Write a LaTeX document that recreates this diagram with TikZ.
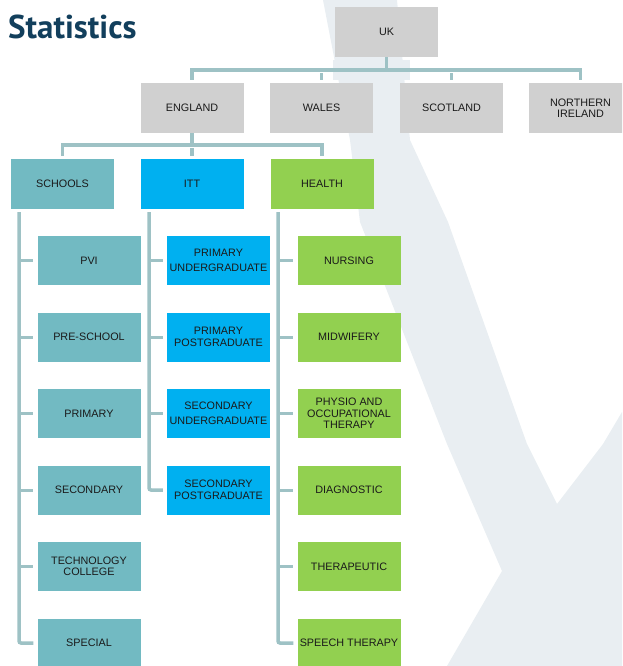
\documentclass[tikz,border=0pt]{standalone}
\usepackage{fontspec}
\setmainfont{Liberation Sans}
\newfontfamily\titlefont{PT Sans}
\definecolor{greyc}{HTML}{D0D0D0}
\definecolor{tealc}{HTML}{72BAC2}
\definecolor{bluec}{HTML}{00B0F0}
\definecolor{greenc}{HTML}{92D050}
\definecolor{connc}{HTML}{9EC2C5}
\definecolor{bgc}{HTML}{E9EEF2}
\definecolor{txtc}{HTML}{1A1A1A}
\definecolor{titlec}{HTML}{123F5C}
\tikzset{
  box/.style={minimum width=103pt, minimum height=49pt, inner sep=0pt, align=center,
    font=\fontsize{10.8}{11.5}\selectfont, text=txtc},
  greybox/.style={box, fill=greyc},
  tealbox/.style={box, fill=tealc},
  bluebox/.style={box, fill=bluec},
  greenbox/.style={box, fill=greenc},
  conn/.style={draw=connc, line width=3.5pt},
  drop/.style={conn, shorten <=3pt, shorten >=3pt},
  stub/.style={draw=connc, line width=3pt},
}
\begin{document}
\begin{tikzpicture}[x=1pt,y=-1pt]
\useasboundingbox (0,0) rectangle (622,666);
\clip (0,0) rectangle (622,666);
% background swoosh
\fill[bgc] (323,0) -- (397,0) -- (410,140) -- (448,222) -- (527,444) -- (557,504) -- (603,444)
  -- (622,412) -- (622,666) -- (447,666) -- (502,571) -- (447,444) -- (360,222) -- (350,140) -- cycle;
\fill[bgc] (333,60) rectangle (410,80);
% title
\node[anchor=base west, inner sep=0pt, text=titlec,
  font=\titlefont\bfseries\fontsize{33}{36}\selectfont] (title) at (8,39) {Statistics};
% level 1 and 2
\node[greybox, minimum height=50pt] (uk) at (386.5,32) {UK};
\node[greybox, minimum height=50pt] (eng) at (192,108) {ENGLAND};
\node[greybox, minimum height=50pt] (wal) at (321.5,108) {WALES};
\node[greybox, minimum height=50pt] (sco) at (451.5,108) {SCOTLAND};
\node[greybox, minimum height=50pt] (nir) at (580.5,108) {NORTHERN\\IRELAND};
% level 3
\node[tealbox, minimum height=50pt] (sch) at (62.5,184) {SCHOOLS};
\node[bluebox, minimum height=50pt] (itt) at (192,184) {ITT};
\node[greenbox, minimum height=50pt] (hea) at (322,184) {HEALTH};
% schools
\node[tealbox] (s1) at (89,260.5) {PVI};
\node[tealbox] (s2) at (89,337) {PRE-SCHOOL};
\node[tealbox] (s3) at (89,413.5) {PRIMARY};
\node[tealbox] (s4) at (89,490) {SECONDARY};
\node[tealbox] (s5) at (89,566.5) {TECHNOLOGY\\COLLEGE};
\node[tealbox] (s6) at (89,643) {SPECIAL};
% itt
\node[bluebox] (i1) at (218.5,260.5) {PRIMARY\\[3.5pt]UNDERGRADUATE};
\node[bluebox] (i2) at (218.5,337) {PRIMARY\\POSTGRADUATE};
\node[bluebox] (i3) at (218.5,413.5) {SECONDARY\\[3.5pt]UNDERGRADUATE};
\node[bluebox] (i4) at (218.5,490) {SECONDARY\\POSTGRADUATE};
% health
\node[greenbox] (h1) at (349,260.5) {NURSING};
\node[greenbox] (h2) at (349,337) {MIDWIFERY};
\node[greenbox] (h3) at (349,413.5) {PHYSIO AND\\OCCUPATIONAL\\THERAPY};
\node[greenbox] (h4) at (349,490) {DIAGNOSTIC};
\node[greenbox] (h5) at (349,566.5) {THERAPEUTIC};
\node[greenbox] (h6) at (349,643) {SPEECH THERAPY};
% UK connectors
\path (uk.south) ++(0,13) coordinate (ukb);
\draw[conn] (uk.south) -- (ukb);
\draw[drop] (eng.north) -- (eng.north |- ukb) -- (nir.north |- ukb) -- (nir.north);
\draw[drop] (wal.north) -- (wal.north |- ukb);
\draw[drop] (sco.north) -- (sco.north |- ukb);
% England connectors
\path (eng.south) ++(0,12) coordinate (engb);
\draw[conn] (eng.south) -- (engb);
\draw[drop] (sch.north) -- (sch.north |- engb) -- (hea.north |- engb) -- (hea.north);
\draw[drop] (itt.north) -- (itt.north |- engb);
% column lines
\coordinate (sl) at (19,212);
\coordinate (il) at (149,212);
\coordinate (hl) at (278,212);
\draw[conn, rounded corners=2pt] (sl) |- ([xshift=-4pt]s6.west);
\foreach \n in {s1,s2,s3,s4,s5} \draw[stub] (sl |- \n.west) -- ([xshift=-4pt]\n.west);
\draw[conn, rounded corners=2pt] (il) |- ([xshift=-4pt]i4.west);
\foreach \n in {i1,i2,i3} \draw[stub] (il |- \n.west) -- ([xshift=-4pt]\n.west);
\draw[conn, rounded corners=2pt] (hl) |- ([xshift=-4pt]h6.west);
\foreach \n in {h1,h2,h3,h4,h5} \draw[stub] (hl |- \n.west) -- ([xshift=-4pt]\n.west);
\end{tikzpicture}
\end{document}
